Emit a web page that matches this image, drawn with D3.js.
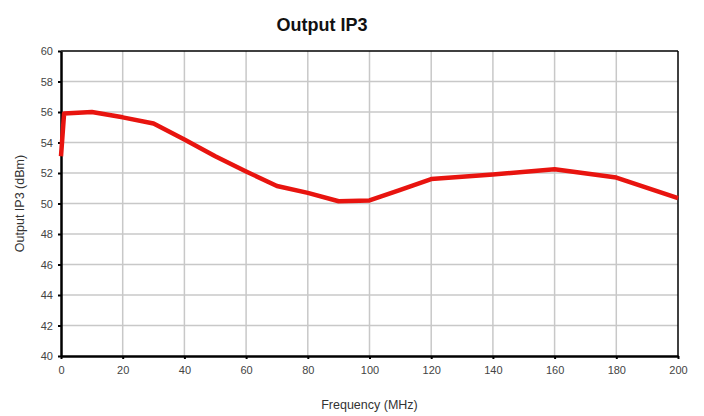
<!DOCTYPE html>
<html><head><meta charset="utf-8">
<script src="https://cdn.jsdelivr.net/npm/d3@7"></script>
<style>body{margin:0;background:#fff}svg{display:block}text{font-family:"Liberation Sans",Arial,sans-serif}</style>
</head><body><svg id="c" width="704" height="416"></svg>
<script>
const freq = [0, 1, 10, 20, 30, 40, 50, 60, 70, 80, 90, 100, 110, 120, 140, 160, 180, 200];
const oip3 = [53.1, 55.9, 56.0, 55.65, 55.25, 54.2, 53.1, 52.1, 51.15, 50.7, 50.15, 50.2, 50.9, 51.6, 51.9, 52.25, 51.7, 50.35];
const xTicks = [0, 20, 40, 60, 80, 100, 120, 140, 160, 180, 200];
const yTicks = [40, 42, 44, 46, 48, 50, 52, 54, 56, 58, 60];

const svg = d3.select("#c");
const L = 61, R = 678, T = 51, B = 356;
const x = d3.scaleLinear().domain([0, 200]).range([L, R]);
const y = d3.scaleLinear().domain([40, 60]).range([B, T]);

// grid
svg.append("g").selectAll("line").data(xTicks.slice(1, -1)).join("line")
  .attr("x1", d => x(d)).attr("x2", d => x(d)).attr("y1", T).attr("y2", B)
  .attr("stroke", "#c8c8c8").attr("stroke-width", 1.5);
svg.append("g").selectAll("line").data(yTicks.slice(1, -1)).join("line")
  .attr("y1", d => y(d)).attr("y2", d => y(d)).attr("x1", L).attr("x2", R)
  .attr("stroke", "#c8c8c8").attr("stroke-width", 1.5);

// top & right frame
svg.append("line").attr("x1", L).attr("x2", R).attr("y1", T).attr("y2", T).attr("stroke", "#000").attr("stroke-width", 1.5);
svg.append("line").attr("x1", R).attr("x2", R).attr("y1", T).attr("y2", B).attr("stroke", "#000").attr("stroke-width", 1.5);

// axes
const xa = svg.append("g").attr("transform", `translate(0,${B})`)
  .call(d3.axisBottom(x).tickValues(xTicks).tickSize(3).tickPadding(7).tickSizeOuter(0));
const ya = svg.append("g").attr("transform", `translate(${L},0)`)
  .call(d3.axisLeft(y).tickValues(yTicks).tickSize(3).tickPadding(5).tickSizeOuter(0));
[xa, ya].forEach(g => {
  g.select(".domain").attr("stroke", "#000").attr("stroke-width", 2.5);
  g.selectAll(".tick line").attr("stroke", "#000").attr("stroke-width", 2);
  g.selectAll("text").attr("font-size", 11).attr("fill", "#444")
    .attr("font-family", '"Liberation Sans",Arial,sans-serif');
});

// line
svg.append("path").datum(freq.map((f, i) => [f, oip3[i]]))
  .attr("d", d3.line().x(d => x(d[0])).y(d => y(d[1])))
  .attr("fill", "none").attr("stroke", "#e8140f").attr("stroke-width", 4.5)
  .attr("stroke-linejoin", "round");

// titles
svg.append("text").attr("x", 322).attr("y", 31).attr("text-anchor", "middle")
  .attr("font-size", 18).attr("font-weight", "bold").attr("fill", "#111").text("Output IP3");
svg.append("text").attr("x", (L + R) / 2).attr("y", 409).attr("text-anchor", "middle")
  .attr("font-size", 12.5).attr("fill", "#333").text("Frequency (MHz)");
svg.append("text").attr("transform", `translate(24,${(T + B) / 2}) rotate(-90)`).attr("text-anchor", "middle")
  .attr("font-size", 12.5).attr("fill", "#333").text("Output IP3 (dBm)");
</script></body></html>
